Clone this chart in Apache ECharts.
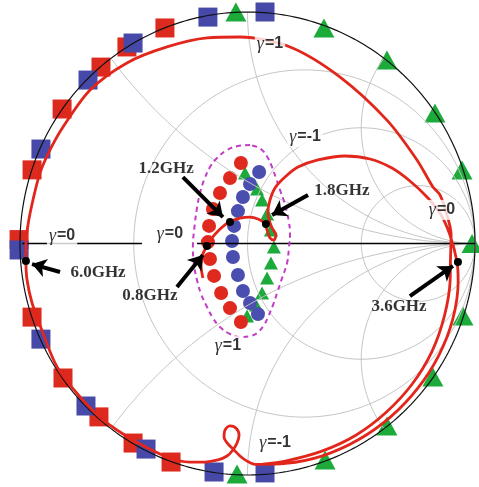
<!DOCTYPE html>
<html><head><meta charset="utf-8">
<script src="https://cdn.jsdelivr.net/npm/echarts@6/dist/echarts.min.js"></script>
<style>html,body{margin:0;padding:0;background:#fff}#c{width:479px;height:487px}</style>
</head><body><div id="c"></div>
<script>
// ---- Smith chart grid values (normalised resistance / reactance) ----
const smithR = [1/3, 1, 3];
const smithX = [0.5, 1, 2, -0.5, -1, -2];

// ---- Reflection-coefficient data (Re, Im) ----
const edgeRedSquares = [[-0.363,0.931],[-0.530,0.849],[-0.644,0.762],[-0.815,0.581],[-0.947,0.318],[-1.004,0.017],
  [-0.947,-0.318],[-0.811,-0.581],[-0.653,-0.749],[-0.503,-0.862],[-0.336,-0.944]];
const edgeBlueSquares = [[0.077,1.000],[-0.174,0.978],[-0.503,0.866],[-0.701,0.706],[-0.908,0.408],[-1.004,-0.028],
  [-0.908,-0.413],[-0.710,-0.702],[-0.446,-0.888],[-0.147,-0.987],[0.077,-0.991]];
const edgeGreenTriangles = [[-0.051,1.000],[0.336,0.931],[0.613,0.793],[0.824,0.564],[0.943,0.318],[0.987,0.0],
  [0.947,-0.313],[0.815,-0.577],[0.613,-0.788],[0.341,-0.935],[-0.046,-0.996]];

const centerRedCircles = [[-0.029,0.348],[-0.077,0.283],[-0.121,0.218],[-0.152,0.149],[-0.169,0.076],[-0.174,0.006],
  [-0.165,-0.067],[-0.147,-0.140],[-0.116,-0.214],[-0.077,-0.279],[-0.029,-0.339]];
const centerBlueCircles = [[0.051,0.309],[0.011,0.257],[-0.020,0.201],[-0.042,0.140],[-0.059,0.076],[-0.068,0.011],
  [-0.064,-0.058],[-0.042,-0.136],[-0.020,-0.205],[0.011,-0.257],[0.046,-0.305]];
const centerGreenTriangles = [[-0.011,0.305],[0.042,0.235],[0.064,0.188],[0.086,0.127],[0.103,0.058],[0.116,-0.015],
  [0.103,-0.084],[0.086,-0.149],[0.064,-0.214],[0.037,-0.266],[-0.002,-0.313]];

const magentaContour = [[0.011,0.425],[-0.042,0.421],[-0.090,0.404],[-0.134,0.369],[-0.165,0.330],[-0.191,0.274],
  [-0.209,0.218],[-0.222,0.153],[-0.231,0.089],[-0.240,-0.015],[-0.235,-0.093],[-0.222,-0.158],[-0.204,-0.218],
  [-0.178,-0.274],[-0.152,-0.322],[-0.121,-0.361],[-0.077,-0.391],[-0.033,-0.404],[0.011,-0.400],[0.042,-0.387],
  [0.073,-0.352],[0.090,-0.318],[0.112,-0.266],[0.130,-0.214],[0.152,-0.149],[0.174,-0.084],[0.182,-0.019],
  [0.187,0.045],[0.182,0.093],[0.174,0.132],[0.160,0.184],[0.143,0.231],[0.125,0.283],[0.108,0.330],[0.090,0.369],
  [0.068,0.400],[0.042,0.417],[0.011,0.425]];

const redTrace = [
  [-0.196,-0.149],[-0.204,-0.097],[-0.196,-0.045],[-0.178,-0.011],[-0.156,0.024],[-0.125,0.058],[-0.095,0.084],
  [-0.073,0.097],[-0.033,0.110],[0.011,0.114],[0.046,0.106],[0.073,0.089],[0.086,0.058],[0.099,0.024],[0.116,0.015],
  [0.125,0.037],[0.108,0.067],[0.095,0.102],[0.090,0.136],[0.099,0.188],[0.121,0.240],[0.165,0.287],[0.222,0.330],
  [0.310,0.361],[0.429,0.378],[0.538,0.365],[0.635,0.326],[0.714,0.270],[0.789,0.201],[0.846,0.132],[0.890,0.037],
  [0.921,-0.081],[0.926,-0.163],[0.902,-0.328],[0.840,-0.485],[0.747,-0.627],[0.629,-0.749],[0.489,-0.847],
  [0.333,-0.916],[0.168,-0.950],[0.033,-0.954],
  [-0.002,-0.940],[-0.033,-0.918],[-0.059,-0.892],[-0.086,-0.866],[-0.103,-0.836],[-0.099,-0.806],[-0.077,-0.788],
  [-0.051,-0.797],[-0.037,-0.827],[-0.046,-0.862],[-0.064,-0.892],[-0.090,-0.918],[-0.130,-0.935],[-0.187,-0.944],
  [-0.253,-0.944],[-0.354,-0.922],[-0.503,-0.849],[-0.635,-0.762],[-0.736,-0.663],[-0.837,-0.533],[-0.899,-0.387],
  [-0.947,-0.257],[-0.969,-0.158],[-0.974,-0.076],
  [-0.974,-0.006],[-0.965,0.080],[-0.943,0.188],[-0.912,0.305],[-0.868,0.404],[-0.811,0.503],[-0.692,0.663],
  [-0.530,0.780],[-0.354,0.849],[-0.178,0.888],[-0.033,0.892],[0.187,0.849],[0.407,0.719],[0.613,0.533],
  [0.745,0.361],[0.815,0.244],[0.846,0.210],[0.877,0.123],[0.895,0.037],
  [0.892,-0.078],[0.891,-0.157],[0.865,-0.315],[0.810,-0.468],[0.724,-0.607],[0.611,-0.728],[0.478,-0.827],
  [0.327,-0.897],[0.166,-0.940],[0.067,-0.953]];

const freqLabels = ['0.8GHz','1.2GHz','1.8GHz','3.6GHz','6.0GHz'];
const freqPoints = [[-0.178,-0.011],[-0.077,0.093],[0.081,0.084],[0.925,-0.080],[-0.974,-0.076]];
const freqLabelPos = [[-0.429,-0.227],[-0.358,0.322],[0.415,0.227],[0.666,-0.274],[-0.657,-0.127]];
const freqArrowTail = [[-0.310,-0.188],[-0.284,0.287],[0.266,0.210],[0.714,-0.227],[-0.824,-0.123]];
const freqArrowHead = [[-0.196,-0.050],[-0.108,0.114],[0.108,0.123],[0.903,-0.097],[-0.947,-0.089]];

const gammaValues = ['1','-1','0','0','0','1','-1'];
const gammaLabelPos = [[0.099,0.862],[0.253,0.460],[0.855,0.145],[-0.815,0.032],[-0.341,0.041],[-0.086,-0.443],[0.121,-0.862]];

// ---- helpers for the Smith grid ----
function resistanceCircle(r){
  const c = r/(1+r), rad = 1/(1+r), pts = [];
  for(let i=0;i<=360;i++){const t=i*Math.PI/180; pts.push([c+rad*Math.cos(t), rad*Math.sin(t)]);}
  return pts;
}
function reactanceArc(x){
  const cy = 1/x, rad = Math.abs(1/x), pts = [];
  const t0 = x>0 ? -Math.PI/2 : Math.PI/2, s = x>0 ? -1 : 1, N = 2000;
  for(let i=0;i<=N;i++){
    const t = t0 + s*i*2*Math.PI/N;
    const p = [1+rad*Math.cos(t), cy+rad*Math.sin(t)];
    if(p[0]*p[0]+p[1]*p[1] > 1.000001 && i>0) break;
    pts.push(p);
  }
  return pts;
}
const unitCircle = [];
for(let i=0;i<=720;i++){const t=i*Math.PI/360; unitCircle.push([Math.cos(t), Math.sin(t)]);}

const series = [];
const gray = {color:'#c4c4c4', width:1};
smithR.forEach(r=>series.push({type:'line', data:resistanceCircle(r), showSymbol:false, symbol:'none', lineStyle:gray, silent:true, clip:false}));
smithX.forEach(x=>series.push({type:'line', data:reactanceArc(x), showSymbol:false, symbol:'none', lineStyle:gray, silent:true, clip:false}));
series.push({type:'line', data:unitCircle, showSymbol:false, symbol:'none', lineStyle:{color:'#111', width:1.2}, silent:true, clip:false});
series.push({type:'line', data:[[-0.99,0],[-0.464,0]], showSymbol:false, symbol:'none', lineStyle:{color:'#000', width:1.3}, silent:true, clip:false});
series.push({type:'line', data:[[-0.222,0],[1,0]], showSymbol:false, symbol:'none', lineStyle:{color:'#000', width:1.3}, silent:true, clip:false});

series.push({type:'line', data:magentaContour, smooth:0.4, showSymbol:false, symbol:'none', lineStyle:{color:'#c23cc6', width:2, type:[5,4]}, silent:true, clip:false});

series.push({type:'scatter', data:centerGreenTriangles, symbol:'triangle', symbolSize:[14,13], itemStyle:{color:'#1caa3a', opacity:1}, silent:true, clip:false});
series.push({type:'scatter', data:centerRedCircles, symbol:'circle', symbolSize:14, itemStyle:{color:'#e0291e', opacity:1}, silent:true, clip:false});
series.push({type:'scatter', data:centerBlueCircles, symbol:'circle', symbolSize:14, itemStyle:{color:'#4a4eae', opacity:1}, silent:true, clip:false});

series.push({type:'line', data:redTrace, smooth:0.3, showSymbol:false, symbol:'none', lineStyle:{color:'#e2261c', width:2.8}, silent:true, clip:false});

series.push({type:'scatter', data:edgeRedSquares, symbol:'rect', symbolSize:19, itemStyle:{color:'#dd2a1e', opacity:1}, silent:true, clip:false});
series.push({type:'scatter', data:edgeBlueSquares, symbol:'rect', symbolSize:19, itemStyle:{color:'#4649a8', opacity:1}, silent:true, clip:false});
series.push({type:'scatter', data:edgeGreenTriangles, symbol:'triangle', symbolSize:[21,19], itemStyle:{color:'#1caa3a', opacity:1}, silent:true, clip:false});

series.push({type:'scatter', data:freqPoints, symbol:'circle', symbolSize:8, itemStyle:{color:'#000', opacity:1}, silent:true, clip:false, z:5});
series.push({type:'lines', coordinateSystem:'cartesian2d', polyline:false, symbol:['none','arrow'], symbolSize:14,
  lineStyle:{color:'#000', width:4, opacity:1, curveness:0}, silent:true, clip:false, z:6,
  data: freqArrowTail.map((t,i)=>({coords:[t, freqArrowHead[i]]}))});

series.push({type:'scatter', symbol:'circle', symbolSize:1, itemStyle:{color:'rgba(0,0,0,0)'}, silent:true, clip:false, z:10,
  data: freqLabelPos.map((p,i)=>({value:p, name:freqLabels[i]})),
  label:{show:true, position:'inside', formatter:p=>p.name, color:'#000', fontFamily:'Liberation Serif', fontWeight:'bold', fontSize:17}});

series.push({type:'scatter', symbol:'circle', symbolSize:1, itemStyle:{color:'rgba(0,0,0,0)'}, silent:true, clip:false, z:10,
  data: gammaLabelPos.map((p,i)=>({value:p, t:gammaValues[i]})),
  label:{show:true, position:'inside', backgroundColor:'#fff', padding:[1,2],
    formatter:p=>'{g|\u03b3}{b|=' + p.data.t + '}',
    rich:{g:{fontFamily:'Liberation Serif', fontStyle:'italic', fontSize:18, color:'#000', padding:[0,1,0,0]},
          b:{fontFamily:'Liberation Sans', fontWeight:'bold', fontSize:16, color:'#000'}}}});

const chart = echarts.init(document.getElementById('c'));
chart.setOption({
  animation:false,
  backgroundColor:'#fff',
  grid:{left:20, top:12, width:455, height:463},
  xAxis:{type:'value', min:-1, max:1, show:false, splitLine:{show:false}},
  yAxis:{type:'value', min:-1, max:1, show:false, splitLine:{show:false}},
  series: series
});
</script></body></html>
